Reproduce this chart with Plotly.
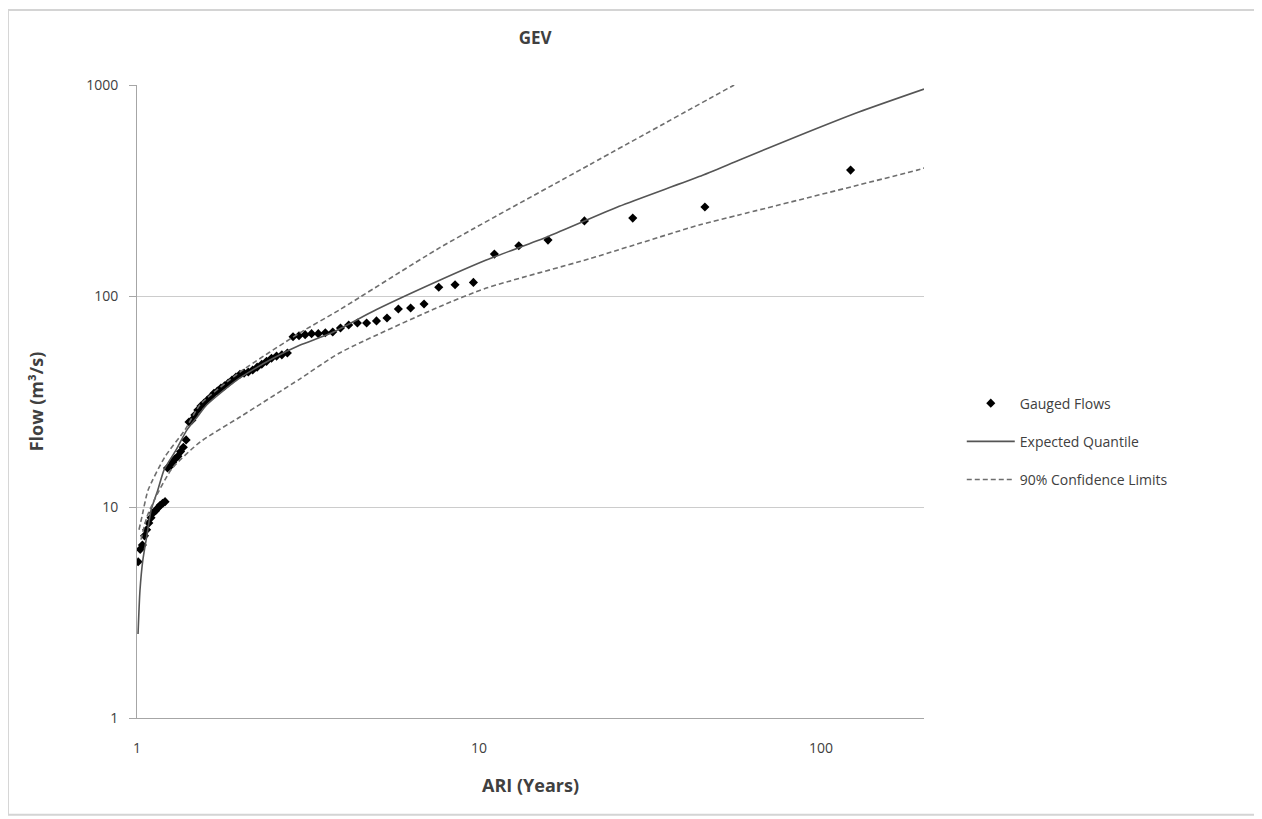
import plotly.graph_objects as go

# Gauged annual maxima (ARI in years, flow in m3/s)
gauged_ari = [122.0, 45.75, 28.15, 20.33, 15.91, 13.07, 11.09, 9.63, 8.51, 7.625,
              6.906, 6.310, 5.810, 5.382, 5.014, 4.692, 4.410, 4.159, 3.935, 3.735,
              3.553, 3.389, 3.239, 3.102, 2.976, 2.859, 2.752, 2.652, 2.559, 2.473,
              2.392, 2.316, 2.245, 2.179, 2.116, 2.056, 2.000, 1.947, 1.896, 1.848,
              1.803, 1.760, 1.718, 1.679, 1.641, 1.605, 1.571, 1.538, 1.506, 1.476,
              1.447, 1.419, 1.392, 1.366, 1.341, 1.317, 1.293, 1.271, 1.249, 1.228,
              1.208, 1.188, 1.169, 1.151, 1.133, 1.116, 1.099, 1.083, 1.067, 1.052,
              1.037, 1.022, 1.008]
gauged_flow = [395, 264, 234, 227, 184, 173, 158, 116, 113, 110,
               91.6, 87.7, 86.8, 78.7, 76.2, 74.5, 74.5, 72.9, 70.5, 67.5,
               67.0, 66.3, 66.3, 65.6, 64.8, 64.1, 53.7, 52.6, 51.9, 50.7,
               49.0, 47.5, 46.0, 44.6, 43.6, 43.1, 42.6, 41.3, 40.0, 38.7,
               37.5, 36.6, 35.4, 34.6, 33.2, 32.1, 31.1, 30.1, 28.8, 27.3,
               25.8, 25.3, 20.8, 19.2, 18.3, 17.4, 16.9, 16.3, 15.6, 15.3,
               10.6, 10.4, 10.2, 9.9, 9.6, 9.4, 8.9, 8.4, 7.8, 7.3,
               6.6, 6.3, 5.5]

# Expected quantile curve
exp_ari = [1.007, 1.02, 1.04, 1.07, 1.1, 1.15, 1.2, 1.3, 1.4, 1.5, 1.6, 1.8, 2.0,
           2.5, 3.0, 3.7, 5.0, 7.7, 10.5, 16.0, 25.7, 44.0, 57.5, 86.0, 129.0, 200.0]
exp_flow = [2.5, 4.0, 5.6, 7.4, 9.7, 12.0, 15.0, 18.6, 23.2, 26.7, 30.5, 35.9, 40.9,
            50.7, 58.6, 66.8, 86, 119, 148, 192, 266, 368, 440, 575, 745, 957]

# 90% confidence limits
upper_ari = [1.0135, 1.034, 1.077, 1.207, 1.381, 1.528, 2.0, 2.99, 3.91, 7.66, 21.0, 55.7]
upper_flow = [7.8, 9.0, 12.0, 17.3, 23.2, 30.5, 43.6, 66.8, 86, 169, 418, 1000]
lower_ari = [1.027, 1.07, 1.13, 1.265, 1.528, 2.0, 2.99, 3.91, 7.66, 10.5, 21.0, 44.0,
             57.5, 191.0, 200.0]
lower_flow = [7.0, 9.0, 11.0, 15.2, 20.3, 26.7, 40.4, 53.7, 89.0, 109, 150, 217,
              242, 395, 404]

font_family = "Open Sans, Liberation Sans, sans-serif"
text_color = "#404040"

fig = go.Figure()

fig.add_trace(go.Scatter(
    x=gauged_ari, y=gauged_flow, mode="markers", name="Gauged Flows",
    marker=dict(symbol="diamond", size=7, color="black"),
    legendgroup="g1",
))
fig.add_trace(go.Scatter(
    x=exp_ari, y=exp_flow, mode="lines", name="Expected Quantile",
    line=dict(color="#555555", width=1.6, shape="spline", smoothing=0.6),
    legendgroup="g2",
))
fig.add_trace(go.Scatter(
    x=lower_ari, y=lower_flow, mode="lines", name="90% Confidence Limits",
    line=dict(color="#6e6e6e", width=1.6, dash="5px,3px", shape="spline", smoothing=0.6),
    legendgroup="g3",
))
fig.add_trace(go.Scatter(
    x=upper_ari, y=upper_flow, mode="lines", name="90% Confidence Limits",
    line=dict(color="#6e6e6e", width=1.6, dash="5px,3px", shape="spline", smoothing=0.6),
    legendgroup="g3", showlegend=False,
))

# page has an 8px body margin, so the figure is sized a little smaller
fig.update_layout(
    width=1254, height=811,
    margin=dict(l=129, r=338, t=77, b=101),
    paper_bgcolor="white", plot_bgcolor="white",
    font=dict(family=font_family, color=text_color, size=14),
    title=dict(text="<b>GEV</b>", x=0.4204, xanchor="center",
               y=0.963, yanchor="middle", font=dict(size=17, color=text_color)),
    legend=dict(x=1.048, y=0.522, xanchor="left", yanchor="top",
                font=dict(size=14, color=text_color), tracegroupgap=17,
                itemwidth=48, bgcolor="rgba(0,0,0,0)"),
    showlegend=True,
    shapes=[dict(type="rect", xref="paper", yref="paper",
                 x0=-0.164, x1=1.4206, y0=-0.153, y1=1.1185,
                 line=dict(color="#d4d4d4", width=2))],
)

fig.update_xaxes(
    type="log", range=[0, 2.301],
    tickvals=[1, 10, 100], ticktext=["1", "10", "100"],
    showgrid=False, showline=True, linecolor="#a6a6a6", linewidth=1,
    ticks="", zeroline=False, ticklabelstandoff=17,
    tickfont=dict(size=14, color=text_color),
    title=dict(text="<b>ARI (Years)</b>", font=dict(size=18, color=text_color), standoff=23),
)
fig.update_yaxes(
    type="log", range=[0, 3],
    tickvals=[1, 10, 100, 1000], ticktext=["1", "10", "100", "1000"],
    showgrid=True, gridcolor="#cccccc", gridwidth=1,
    showline=True, linecolor="#a6a6a6", linewidth=1,
    ticks="outside", ticklen=7, tickcolor="#a6a6a6",
    ticklabelstandoff=8, zeroline=False,
    tickfont=dict(size=14, color=text_color),
    title=dict(text="<b>Flow (m³/s)</b>", font=dict(size=18, color=text_color), standoff=37),
)

fig.write_html("out.html")
